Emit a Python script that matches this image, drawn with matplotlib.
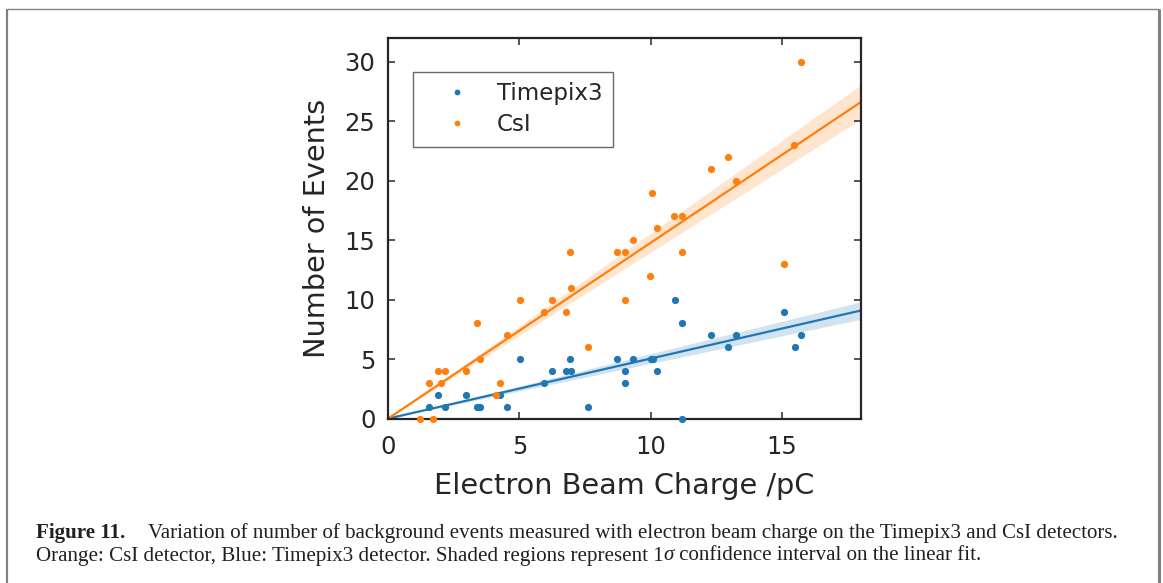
import matplotlib
matplotlib.use('Agg')
import matplotlib.pyplot as plt
from matplotlib.patches import Rectangle
from matplotlib.lines import Line2D
import numpy as np

# ---------------- data ----------------
series_names = ['Timepix3', 'CsI']
timepix_x = [1.56, 1.89, 2.17, 2.97, 3.38, 3.50, 4.26, 4.54, 5.02, 5.95, 6.23,
             6.76, 6.98, 6.92, 7.60, 8.70, 9.03, 9.00, 9.34, 10.00, 10.07,
             10.23, 10.92, 11.18, 11.18, 12.28, 12.95, 13.23, 15.08, 15.47, 15.71]
timepix_y = [1, 2, 1, 2, 1, 1, 2, 1, 5, 3, 4,
             4, 4, 5, 1, 5, 4, 3, 5, 5, 5,
             4, 10, 8, 0, 7, 6, 7, 9, 6, 7]
csi_x = [1.21, 1.70, 1.56, 2.01, 1.89, 2.17, 2.97, 3.40, 3.50, 4.11, 4.26,
         4.54, 5.02, 5.95, 6.23, 6.76, 6.97, 6.92, 7.60, 8.70, 9.03, 9.00,
         9.31, 9.97, 10.06, 10.23, 10.90, 11.18, 11.18, 12.28, 12.95, 13.23,
         15.07, 15.46, 15.71]
csi_y = [0, 0, 3, 3, 4, 4, 4, 8, 5, 2, 3,
         7, 10, 9, 10, 9, 11, 14, 6, 14, 14, 10,
         15, 12, 19, 16, 17, 17, 14, 21, 22, 20,
         13, 23, 30]
fit_slope = [0.505, 1.479]     # Timepix3, CsI (fit through origin)
fit_sigma = [0.041, 0.080]     # 1 sigma on slope
x_ticks = [0, 5, 10, 15]
y_ticks = [0, 5, 10, 15, 20, 25, 30]
x_range = [0, 18]
y_range = [0, 32]
x_label = 'Electron Beam Charge /pC'
y_label = 'Number of Events'
caption_head = 'Figure 11.'
caption_line1 = ('Variation of number of background events measured with electron '
                 'beam charge on the Timepix3 and CsI detectors.')
caption_line2 = ['Orange: CsI detector, Blue: Timepix3 detector. Shaded regions represent 1',
                 '\u03c3', ' confidence interval on the linear fit.']

colors = ['#1f77b4', '#ff7f0e']
dark = '#262626'

W, H = 1163, 583
fig = plt.figure(figsize=(W / 100, H / 100), dpi=100)
fig.patch.set_facecolor('white')

# page frame
fig.add_artist(Line2D([7 / W, 7 / W], [0, 1 - 8.5 / H], transform=fig.transFigure,
                      color='#808080', lw=1.6, solid_capstyle='butt'))
fig.add_artist(Line2D([7 / W, 1159 / W], [1 - 8.5 / H, 1 - 8.5 / H], transform=fig.transFigure,
                      color='#808080', lw=1.0, solid_capstyle='butt'))
fig.add_artist(Line2D([1159 / W, 1159 / W], [0, 1 - 8.5 / H], transform=fig.transFigure,
                      color='#808080', lw=2.2, solid_capstyle='butt'))

ax_l, ax_r, ax_t, ax_b = 388, 861, 38, 418.6
ax = fig.add_axes([ax_l / W, 1 - ax_b / H, (ax_r - ax_l) / W, (ax_b - ax_t) / H])

xs = np.linspace(x_range[0], x_range[1], 200)
series = [(timepix_x, timepix_y), (csi_x, csi_y)]
handles = []
for i, (sx, sy) in enumerate(series):
    ax.fill_between(xs, xs * (fit_slope[i] - fit_sigma[i]), xs * (fit_slope[i] + fit_sigma[i]),
                    color=colors[i], alpha=0.2, lw=0, zorder=1)
    ax.plot(xs, xs * fit_slope[i], color=colors[i], lw=1.6, zorder=2)
for i, (sx, sy) in enumerate(series):
    h, = ax.plot(sx, sy, 'o', color=colors[i], ms=5.2, mew=0, clip_on=False,
                 zorder=3 + i, label=series_names[i])
    handles.append(h)

ax.set_xlim(x_range)
ax.set_ylim(y_range)
ax.set_xticks(x_ticks)
ax.set_yticks(y_ticks)
for s in ax.spines.values():
    s.set_color(dark)
    s.set_linewidth(1.6)
ax.tick_params(direction='in', top=True, right=True, length=5, width=1.1,
               color=dark, labelcolor=dark, labelsize=17.5, pad=9)
ax.tick_params(axis='x', pad=12)
ax.set_xlabel(x_label, fontsize=20.7, color=dark, labelpad=9)
ax.set_ylabel(y_label, fontsize=20.7, color=dark, labelpad=10)

leg = ax.legend(handles=handles, loc='upper left', bbox_to_anchor=(0.053, 0.911),
                borderaxespad=0, fontsize=16.6, markerscale=0.8, fancybox=False,
                frameon=True, handlelength=2.9, handletextpad=0.3, borderpad=0.45,
                labelspacing=0.35)
leg.get_frame().set_edgecolor('#444444')
leg.get_frame().set_linewidth(1.0)
for t in leg.get_texts():
    t.set_color(dark)

# caption
cap_color = '#231f20'
serif = ['Liberation Serif', 'DejaVu Serif']
target_w = 1116 - 36
x0 = 36
y1, y2 = 1 - 533 / H, 1 - 556 / H


def draw_caption(size):
    arts = []
    fig.canvas.draw()
    r = fig.canvas.get_renderer()
    t_head = fig.text(x0 / W, y1, caption_head, fontsize=size, fontweight='bold',
                      family=serif, color=cap_color, va='center', ha='left')
    arts.append(t_head)
    bb = t_head.get_window_extent(r)
    t1 = fig.text((bb.x1 + 1.1 * size * 100 / 72) / W, y1, caption_line1, fontsize=size,
                  family=serif, color=cap_color, va='center', ha='left')
    arts.append(t1)
    xcur = x0
    for k, part in enumerate(caption_line2):
        t = fig.text(xcur / W, y2, part, fontsize=size, family=serif, color=cap_color,
                     va='center', ha='left', style='italic' if k == 1 else 'normal')
        arts.append(t)
        xcur = t.get_window_extent(r).x1
    total = t1.get_window_extent(r).x1 - x0
    return arts, total


arts, total = draw_caption(12)
new_size = 12 * target_w / total
for a in arts:
    a.remove()
draw_caption(new_size)

fig.savefig('out.png', dpi=100, facecolor='white')
